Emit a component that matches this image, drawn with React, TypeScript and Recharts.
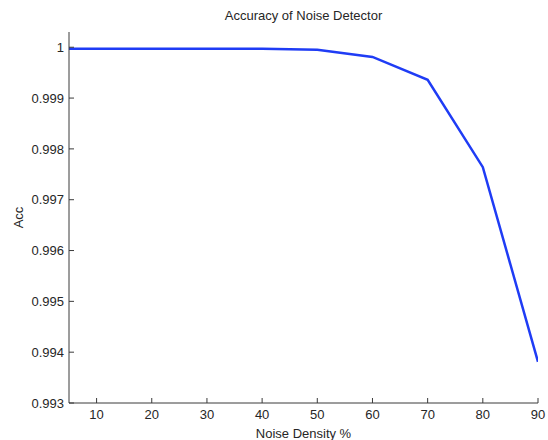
import { LineChart, Line, XAxis, YAxis } from "recharts";

// noise density (%) and detector accuracy
const density = [5, 10, 20, 30, 40, 50, 60, 70, 80, 90];
const accuracy = [
  0.99997, 0.99997, 0.99997, 0.99997, 0.99997, 0.99995, 0.99981, 0.99936,
  0.99764, 0.99381,
];
const xTicks = [10, 20, 30, 40, 50, 60, 70, 80, 90];
const yTicks = [0.993, 0.994, 0.995, 0.996, 0.997, 0.998, 0.999, 1];

const data = density.map((d, i) => ({ density: d, acc: accuracy[i] }));

const font = "'Liberation Sans', Arial, sans-serif";
const tickStyle = { fontSize: 13, fill: "#262626", fontFamily: font };
const axisColor = "#3a3a3a";

const fmtY = (v: number) => (Math.abs(v - 1) < 1e-9 ? "1" : v.toFixed(3));

export default function App() {
  return (
    <div style={{ position: "absolute", left: 0, top: 0, background: "#fff" }}>
      <LineChart
        width={548}
        height={440}
        data={data}
        margin={{ top: 32, right: 10, bottom: 0, left: 0 }}
      >
        <XAxis
          xAxisId="b"
          dataKey="density"
          type="number"
          domain={[5, 90]}
          ticks={xTicks}
          allowDataOverflow
          height={37}
          tickSize={-5}
          tickMargin={12}
          stroke={axisColor}
          tick={tickStyle}
          label={{
            value: "Noise Density %",
            position: "insideBottom",
            offset: 2,
            style: { fontSize: 13, fill: "#262626", fontFamily: font },
          }}
        />
        <XAxis
          xAxisId="t"
          dataKey="density"
          type="number"
          orientation="top"
          domain={[5, 90]}
          ticks={xTicks}
          allowDataOverflow
          height={0}
          tickSize={-5}
          stroke={axisColor}
          tickFormatter={() => ""}
        />
        <YAxis
          yAxisId="l"
          type="number"
          domain={[0.993, 1.0003]}
          ticks={yTicks}
          allowDataOverflow
          width={69}
          tickSize={-5}
          tickMargin={10}
          stroke={axisColor}
          tick={tickStyle}
          tickFormatter={fmtY}
          label={{
            value: "Acc",
            angle: -90,
            position: "insideLeft",
            offset: 18,
            style: {
              fontSize: 13,
              fill: "#262626",
              fontFamily: font,
              textAnchor: "middle",
            },
          }}
        />
        <YAxis
          yAxisId="r"
          type="number"
          orientation="right"
          domain={[0.993, 1.0003]}
          ticks={yTicks}
          allowDataOverflow
          width={0}
          tickSize={-5}
          stroke={axisColor}
          tickFormatter={() => ""}
        />
        <Line
          xAxisId="b"
          yAxisId="l"
          dataKey="acc"
          type="linear"
          stroke="#1f3cf5"
          strokeWidth={2.5}
          dot={false}
          isAnimationActive={false}
        />
        <text
          x={303.5}
          y={20}
          textAnchor="middle"
          fontSize={13}
          fill="#262626"
          fontFamily={font}
        >
          Accuracy of Noise Detector
        </text>
      </LineChart>
    </div>
  );
}
